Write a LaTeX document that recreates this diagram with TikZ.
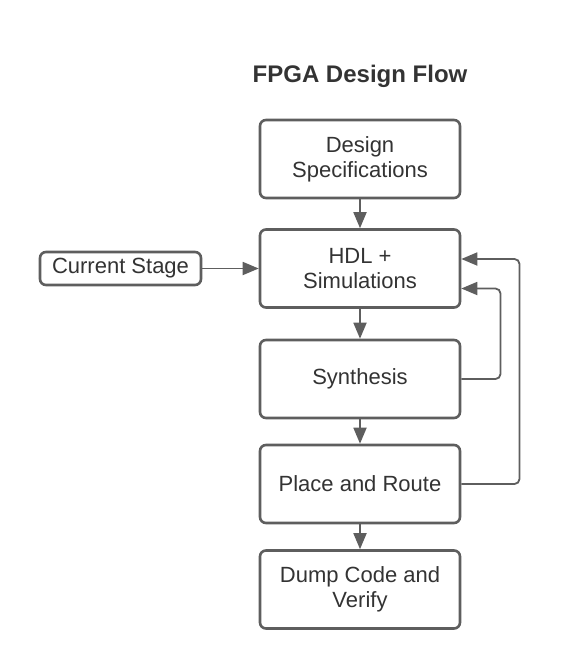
\documentclass[tikz,border=0pt]{standalone}
\usepackage{fontspec}
\setmainfont{Liberation Sans}
\usetikzlibrary{arrows.meta}
\definecolor{lc}{HTML}{5E5E5E}
\definecolor{tc}{HTML}{333333}
\begin{document}
\begin{tikzpicture}[x=1pt,y=-1pt,
  stage/.style={draw=lc,line width=2.6pt,rounded corners=6pt,fill=white,
    minimum width=200pt,minimum height=78pt,align=center,text=tc,
    font=\fontsize{22}{25}\selectfont,inner sep=0pt},
  conn/.style={draw=lc,line width=1.8pt,-{Triangle[length=16pt,width=13pt]},rounded corners=5pt}]
\useasboundingbox (0,0) rectangle (560,669);
\node[font=\bfseries\fontsize{24}{28}\selectfont,text=tc] (title) at (360,76) {FPGA Design Flow};
\node[stage] (spec) at (360,159) {Design\\Specifications};
\node[stage] (hdl) at (360,268.5) {HDL +\\Simulations};
\node[stage] (syn) at (360,379) {Synthesis};
\node[stage] (par) at (360,484) {Place and Route};
\node[stage] (dump) at (360,589.5) {Dump Code and\\Verify};
\node[draw=lc,line width=2.6pt,rounded corners=6pt,fill=white,minimum width=161pt,minimum height=33pt,
  inner sep=0pt,text=tc,font=\fontsize{22}{25}\selectfont] (cur) at (120.5,268.5) {Current Stage};
\coordinate (s1) at (500.5,379);
\coordinate (s2) at (500.5,288.5);
\coordinate (p1) at (519.5,484);
\coordinate (p2) at (519.5,259);
\draw[conn] (spec) -- (hdl);
\draw[conn] (hdl) -- (syn);
\draw[conn] (syn) -- (par);
\draw[conn] (par) -- (dump);
\draw[conn] (cur) -- (hdl);
\draw[conn] (syn.east |- s1) -- (s1) -- (s2) -- (hdl.east |- s2);
\draw[conn] (par.east |- p1) -- (p1) -- (p2) -- (hdl.east |- p2);
\end{tikzpicture}
\end{document}
